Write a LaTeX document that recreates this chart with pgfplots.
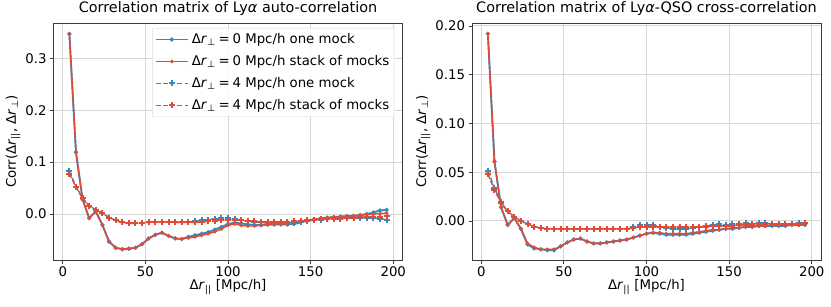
\documentclass[border=0pt]{standalone}
\usepackage{fontspec}
\setmainfont{DejaVu Sans}
\usepackage{pgfplots}
\pgfplotsset{compat=1.18}
\usepackage{pgfplotstable}

\definecolor{cblue}{HTML}{348ABD}
\definecolor{cred}{HTML}{E24A33}
\definecolor{gridc}{RGB}{214,214,214}
\definecolor{framec}{RGB}{60,60,60}

\pgfplotstableread{
x a0b a0r a4b a4r
4 0.347 0.347 0.082 0.078
8 0.119 0.119 0.053 0.052
12 0.028 0.028 0.031 0.030
16 -0.008 -0.008 0.016 0.015
20 0.005 0.005 0.008 0.008
24 -0.021 -0.021 0.002 0.002
28 -0.053 -0.053 -0.007 -0.007
32 -0.065 -0.065 -0.012 -0.012
36 -0.068 -0.067 -0.016 -0.016
40 -0.067 -0.066 -0.018 -0.018
44 -0.065 -0.065 -0.018 -0.018
48 -0.058 -0.058 -0.017 -0.017
52 -0.047 -0.047 -0.016 -0.016
56 -0.040 -0.040 -0.015 -0.015
60 -0.036 -0.036 -0.015 -0.015
64 -0.042 -0.042 -0.015 -0.015
68 -0.047 -0.047 -0.016 -0.016
72 -0.048 -0.048 -0.016 -0.016
76 -0.044 -0.046 -0.015 -0.016
80 -0.041 -0.044 -0.014 -0.016
84 -0.038 -0.041 -0.012 -0.015
88 -0.035 -0.038 -0.011 -0.014
92 -0.030 -0.034 -0.009 -0.013
96 -0.025 -0.029 -0.008 -0.012
100 -0.019 -0.022 -0.008 -0.011
104 -0.017 -0.019 -0.009 -0.011
108 -0.018 -0.022 -0.011 -0.012
112 -0.020 -0.023 -0.013 -0.013
116 -0.021 -0.023 -0.015 -0.014
120 -0.021 -0.022 -0.016 -0.015
124 -0.020 -0.021 -0.017 -0.015
128 -0.020 -0.020 -0.017 -0.015
132 -0.020 -0.019 -0.018 -0.015
136 -0.020 -0.018 -0.018 -0.015
140 -0.019 -0.016 -0.017 -0.014
144 -0.016 -0.014 -0.015 -0.013
148 -0.013 -0.012 -0.013 -0.012
152 -0.011 -0.010 -0.012 -0.011
156 -0.009 -0.008 -0.011 -0.010
160 -0.007 -0.007 -0.010 -0.009
164 -0.006 -0.006 -0.009 -0.008
168 -0.005 -0.005 -0.009 -0.008
172 -0.004 -0.004 -0.008 -0.007
176 -0.004 -0.003 -0.008 -0.007
180 -0.002 -0.002 -0.007 -0.006
184 0.000 -0.001 -0.007 -0.006
188 0.003 0.000 -0.007 -0.005
192 0.007 0.001 -0.009 -0.005
196 0.008 0.002 -0.011 -0.004
}\auto

\pgfplotstableread{
x a0b a0r a4b a4r
4 0.192 0.192 0.051 0.048
8 0.061 0.061 0.034 0.032
12 0.014 0.014 0.019 0.018
16 -0.004 -0.004 0.010 0.010
20 0.003 0.003 0.004 0.004
24 -0.008 -0.008 0.000 0.000
28 -0.024 -0.023 -0.003 -0.003
32 -0.028 -0.027 -0.006 -0.006
36 -0.029 -0.029 -0.007 -0.007
40 -0.030 -0.029 -0.008 -0.008
44 -0.030 -0.029 -0.008 -0.008
48 -0.026 -0.026 -0.008 -0.008
52 -0.022 -0.022 -0.008 -0.008
56 -0.019 -0.019 -0.008 -0.008
60 -0.018 -0.018 -0.008 -0.008
64 -0.021 -0.021 -0.008 -0.008
68 -0.023 -0.023 -0.008 -0.008
72 -0.023 -0.023 -0.008 -0.008
76 -0.022 -0.022 -0.008 -0.008
80 -0.021 -0.021 -0.008 -0.008
84 -0.020 -0.020 -0.008 -0.008
88 -0.019 -0.019 -0.008 -0.008
92 -0.017 -0.017 -0.006 -0.007
96 -0.015 -0.015 -0.004 -0.006
100 -0.013 -0.013 -0.004 -0.006
104 -0.012 -0.012 -0.004 -0.006
108 -0.013 -0.012 -0.006 -0.006
112 -0.014 -0.013 -0.007 -0.006
116 -0.014 -0.013 -0.008 -0.006
120 -0.014 -0.013 -0.008 -0.006
124 -0.014 -0.013 -0.008 -0.006
128 -0.013 -0.012 -0.007 -0.006
132 -0.012 -0.011 -0.006 -0.006
136 -0.011 -0.010 -0.005 -0.006
140 -0.010 -0.009 -0.004 -0.005
144 -0.009 -0.009 -0.003 -0.005
148 -0.008 -0.008 -0.004 -0.005
152 -0.008 -0.007 -0.003 -0.005
156 -0.007 -0.007 -0.003 -0.004
160 -0.006 -0.006 -0.002 -0.004
164 -0.006 -0.006 -0.003 -0.004
168 -0.005 -0.005 -0.002 -0.004
172 -0.005 -0.005 -0.002 -0.004
176 -0.005 -0.004 -0.003 -0.003
180 -0.005 -0.004 -0.003 -0.003
184 -0.005 -0.004 -0.003 -0.003
188 -0.004 -0.004 -0.003 -0.003
192 -0.004 -0.003 -0.002 -0.003
196 -0.004 -0.003 -0.002 -0.002
}\cross

\newcommand{\fs}{\fontsize{13.3}{16}\selectfont}
\newcommand{\ft}{\fontsize{14.4}{17}\selectfont}
\newcommand{\rpar}{Δ\textit{r}\textsubscript{||}}
\newcommand{\rperp}{Δ\textit{r}\textsubscript{⊥}}
\newcommand{\eq}{\hspace{0.22em}=\hspace{0.22em}}

\pgfplotsset{
  mystyle/.style={
    scale only axis, width=349pt, height=237pt, anchor=south west,
    xmin=-5.6, xmax=205.6, xtick={0,50,100,150,200},
    grid=major, major grid style={gridc, line width=1pt},
    axis line style={framec, line width=0.8pt},
    tick align=outside, tick pos=left, major tick length=3.5pt,
    tick style={framec, line width=0.8pt},
    tick label style={font=\fs},
    label style={font=\fs},
    title style={font=\ft, at={(axis description cs:0.5,1.021)}, anchor=base},
    /pgf/number format/assume math mode=true,
    xlabel={\rpar{} [Mpc/h]},
    xlabel style={at={(axis description cs:0.5,-0.114)}, anchor=center},
    ylabel={Corr(\rpar, \rperp)},
    legend cell align=left,
    legend image code/.code={\draw[mark repeat=2,mark phase=2,##1] plot coordinates {(0pt,0pt) (16pt,0pt) (32pt,0pt)};},
  },
  s0b/.style={cblue, line width=1.9pt, mark=*, mark size=1pt, mark options={solid}},
  s0r/.style={cred, line width=1.4pt, mark=*, mark size=1pt, mark options={solid}},
  s4b/.style={cblue, line width=1.4pt, dash pattern=on 5pt off 2.2pt, mark=+, mark size=3pt, mark options={solid, line width=2pt}},
  s4r/.style={cred, line width=1.4pt, dash pattern=on 5pt off 2.2pt, mark=+, mark size=3pt, mark options={solid, line width=2pt}},
}

\begin{document}
\begin{tikzpicture}
\path[use as bounding box] (0,0) rectangle (831pt,306pt);
\begin{axis}[mystyle, at={(53.5pt,46pt)},
  ymin=-0.0885, ymax=0.368, ytick={0,0.1,0.2,0.3},
  yticklabel style={/pgf/number format/.cd, fixed, fixed zerofill, precision=1},
  ylabel style={at={(axis description cs:-0.116,0.5)}, anchor=center},
  title={Correlation matrix of Ly\textit{α} auto-correlation},
  legend style={at={(0.9785,0.979)}, anchor=north east, font=\fs,
    draw=black!15, rounded corners=2pt, fill=white, fill opacity=0.85, text opacity=1,
    inner sep=2.5pt, row sep=4.4pt, nodes={inner sep=3pt}},
]
\addplot[s0b] table[x=x,y=a0b]{\auto};
\addplot[s0r] table[x=x,y=a0r]{\auto};
\addplot[s4b] table[x=x,y=a4b]{\auto};
\addplot[s4r] table[x=x,y=a4r]{\auto};
\legend{\rperp\eq0 Mpc/h one mock, \rperp\eq0 Mpc/h stack of mocks, \rperp\eq4 Mpc/h one mock, \rperp\eq4 Mpc/h stack of mocks}
\end{axis}
\begin{axis}[mystyle, at={(472pt,46pt)},
  ymin=-0.040, ymax=0.203, ytick={0,0.05,0.1,0.15,0.2},
  yticklabel style={/pgf/number format/.cd, fixed, fixed zerofill, precision=2},
  ylabel style={at={(axis description cs:-0.14,0.5)}, anchor=center},
  title={Correlation matrix of Ly\textit{α}-QSO cross-correlation},
]
\addplot[s0b] table[x=x,y=a0b]{\cross};
\addplot[s0r] table[x=x,y=a0r]{\cross};
\addplot[s4b] table[x=x,y=a4b]{\cross};
\addplot[s4r] table[x=x,y=a4r]{\cross};
\end{axis}
\end{tikzpicture}
\end{document}
